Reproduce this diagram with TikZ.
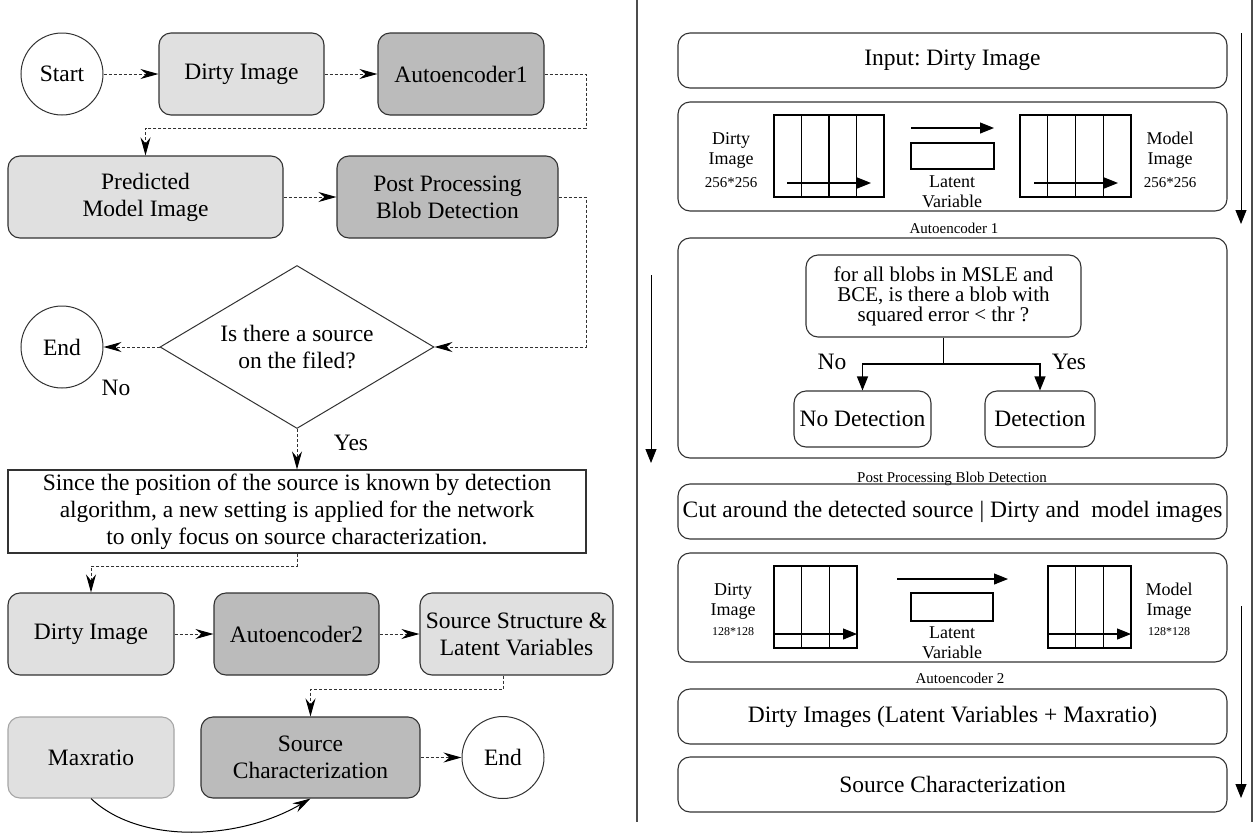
\documentclass[tikz,border=0pt]{standalone}
\usepackage{fontspec}
\setmainfont{Liberation Serif}
\usetikzlibrary{arrows.meta,shapes.geometric}
\frenchspacing

\definecolor{lightfill}{RGB}{224,224,224}
\definecolor{darkfill}{RGB}{187,187,187}
\definecolor{edgegray}{RGB}{50,50,50}

\newcommand{\mainsize}{\fontsize{23.5}{27}\selectfont}
\newcommand{\asksize}{\fontsize{21}{20}\selectfont}
\newcommand{\labelsize}{\fontsize{18}{20}\selectfont}
\newcommand{\dimsize}{\fontsize{15}{17}\selectfont}
\newcommand{\smalldimsize}{\fontsize{12}{14}\selectfont}

\tikzset{
  block/.style={draw=edgegray, line width=1.1pt, rounded corners=12pt, align=center,
    font=\mainsize, inner sep=0pt, minimum height=82pt},
  lightbox/.style={block, fill=lightfill},
  darkbox/.style={block, fill=darkfill},
  term/.style={circle, draw=edgegray, line width=1pt, fill=white, minimum size=82pt,
    inner sep=0pt, font=\mainsize},
  flow/.style={densely dashed, line width=1pt, draw=edgegray,
    -{Stealth[length=18pt,width=10pt,inset=6pt,black]}},
  stage/.style={draw=edgegray, line width=1.1pt, rounded corners=12pt, minimum width=549pt,
    inner sep=0pt, font=\mainsize},
  stagecap/.style={font=\dimsize, inner sep=0pt},
  grid/.style={line width=1.2pt, black},
  pipe/.style={line width=1.1pt, black, -{Triangle[length=14pt,width=11pt]}},
  flowlabel/.style={font=\mainsize, inner sep=0pt},
}

\begin{document}
\begin{tikzpicture}[x=1pt,y=-1pt]
\useasboundingbox (0,0) rectangle (1259,836);

% left side: flow chart
\node[term] (start) at (62,74) {Start};
\node[lightbox, minimum width=165pt] (dirty1) at (241.5,74) {Dirty Image};
\node[darkbox, minimum width=166pt] (ae1) at (461,74) {Autoencoder1};
\node[lightbox, minimum width=275pt] (pred) at (145.5,197) {Predicted\\Model Image};
\node[darkbox, minimum width=221pt] (post) at (447.5,197) {Post Processing\\Blob Detection};
\node[diamond, draw=edgegray, line width=1pt, aspect=1.68, minimum width=274pt, minimum height=163pt,
  inner sep=0pt, align=center, font=\mainsize] (dec) at (297,347) {Is there a source\\on the filed?};
\node[term] (end1) at (62,347) {End};
\node[flowlabel] (nolbl) at (116,388) {No};
\node[flowlabel] (yeslbl) at (351,443) {Yes};
\node[draw=edgegray, line width=1.1pt, minimum width=578pt, minimum height=83pt, inner sep=0pt,
  align=center, font=\mainsize] (note) at (297,511.5)
  {Since the position of the source is known by detection\\
   algorithm, a new setting is applied for the network\\
   to only focus on source characterization.};
\node[lightbox, minimum width=166pt] (dirty2) at (91,634) {Dirty Image};
\node[darkbox, minimum width=165pt] (ae2) at (296.5,634) {Autoencoder2};
\node[lightbox, minimum width=193pt] (latvars) at (516.5,634) {Source Structure \&\\Latent Variables};
\node[lightbox, draw=gray!70, minimum width=166pt, minimum height=81pt] (maxr) at (91,757.5) {Maxratio};
\node[darkbox, minimum width=219pt, minimum height=81pt] (sc) at (310.5,757.5) {Source\\Characterization};
\node[term] (end2) at (503,757.5) {End};

\coordinate (turn1) at (586,128);
\coordinate (turn2) at (586,347);
\coordinate (turn3) at (91,566);
\coordinate (turn4) at (310.5,689);

\draw[flow] (start) -- (dirty1);
\draw[flow] (dirty1) -- (ae1);
\draw[flow] (ae1.east) -| (turn1) -| (pred.north);
\draw[flow] (pred) -- (post);
\draw[flow] (post.east) -| (turn2) -- (dec.east);
\draw[flow] (dec.west) -- (end1);
\draw[flow] (dec.south) -- (note.north);
\draw[flow] (note.south) |- (turn3) -- (dirty2.north);
\draw[flow] (dirty2) -- (ae2);
\draw[flow] (ae2) -- (latvars);
\draw[flow] ([xshift=-13pt]latvars.south) |- (turn4) -- (sc.north);
\draw[flow] (sc) -- (end2);
\draw[line width=1pt, black, -{Stealth[length=18pt,width=10pt,inset=6pt]}]
  (maxr.south) .. controls (140,845) and (240,840) .. (sc.south);

% separators
\draw[gray!60!black, line width=1.4pt] (637,0) -- (637,822);
\draw[gray!60!black, line width=1.4pt] (1252,0) -- (1252,822);

% right side: stages
\node[stage, minimum height=55pt] (input) at (952.5,60.5) {Input: Dirty Image};
\node[stage, minimum height=109pt] (aeone) at (952.5,156.5) {};
\node[stagecap] (aeonecap) at (954,228) {Autoencoder 1};
\node[stage, minimum height=220pt] (blob) at (952.5,348) {};
\node[stagecap] (blobcap) at (952,479) {Post Processing Blob Detection};
\node[stage, minimum height=55pt] (cut) at (952.5,511.5) {Cut around the detected source | Dirty and\ \ model images};
\node[stage, minimum height=109pt] (aetwo) at (952.5,607.5) {};
\node[stagecap] (aetwocap) at (960,678) {Autoencoder 2};
\node[stage, minimum height=55pt] (merge) at (952.5,716.5) {Dirty Images (Latent Variables + Maxratio)};
\node[stage, minimum height=55pt] (charac) at (952.5,784.5) {Source Characterization};

% autoencoder 1
\node[font=\labelsize, align=center, inner sep=0pt] at (731,150) {Dirty\\Image};
\node[font=\dimsize, inner sep=0pt] at (731,183) {256*256};
\draw[grid] (774,115) rectangle (884,197);
\foreach \gx in {801.5,829,856.5} \draw[grid] (\gx,115) -- (\gx,197);
\draw[pipe] (787,183) -- (871,183);
\draw[pipe] (911,128) -- (994,128);
\draw[grid] (911,143) rectangle (994,169);
\node[font=\labelsize, align=center, inner sep=0pt] at (952,192) {Latent\\Variable};
\draw[grid] (1020,115) rectangle (1131,197);
\foreach \gx in {1047.75,1075.5,1103.25} \draw[grid] (\gx,115) -- (\gx,197);
\draw[pipe] (1034,183) -- (1118,183);
\node[font=\labelsize, align=center, inner sep=0pt] at (1170,150) {Model\\Image};
\node[font=\dimsize, inner sep=0pt] at (1170,183) {256*256};

% post processing
\node[draw=edgegray, line width=1.1pt, rounded corners=12pt, minimum width=275pt, minimum height=82pt,
  inner sep=0pt, align=center, font=\asksize] (query) at (943.5,296)
  {for all blobs in MSLE and\\BCE, is there a blob with\\squared error < thr ?};
\node[draw=edgegray, line width=1.1pt, rounded corners=12pt, minimum width=137pt, minimum height=56pt,
  inner sep=0pt, font=\mainsize] (nodet) at (862.5,419) {No Detection};
\node[draw=edgegray, line width=1.1pt, rounded corners=12pt, minimum width=110pt, minimum height=56pt,
  inner sep=0pt, font=\mainsize] (det) at (1040,419) {Detection};
\coordinate (split) at (943.5,364);
\draw[line width=1pt] (query.south) -- (split);
\draw[pipe] (split) -| (nodet.north);
\draw[pipe] (split) -| (det.north);
\node[flowlabel] (nolbl2) at (832,362) {No};
\node[flowlabel] (yeslbl2) at (1069,362) {Yes};

% autoencoder 2
\node[font=\labelsize, align=center, inner sep=0pt] at (733,601) {Dirty\\Image};
\node[font=\smalldimsize, inner sep=0pt] at (733,632) {128*128};
\draw[grid] (774,566) rectangle (857,648);
\foreach \gx in {801.7,829.3} \draw[grid] (\gx,566) -- (\gx,648);
\draw[pipe] (774,634) -- (857,634);
\draw[pipe] (897,579) -- (1008,579);
\draw[grid] (911,593) rectangle (993,621);
\node[font=\labelsize, align=center, inner sep=0pt] at (952,643) {Latent\\Variable};
\draw[grid] (1048,566) rectangle (1131,648);
\foreach \gx in {1075.7,1103.3} \draw[grid] (\gx,566) -- (\gx,648);
\draw[pipe] (1048,634) -- (1131,634);
\node[font=\labelsize, align=center, inner sep=0pt] at (1169,601) {Model\\Image};
\node[font=\smalldimsize, inner sep=0pt] at (1169,632) {128*128};

% direction arrows
\draw[pipe, line width=1pt] (1241,33) -- (1241,224);
\draw[pipe, line width=1pt] (651,275) -- (651,463);
\draw[pipe, line width=1pt] (1241,606) -- (1241,798);
\end{tikzpicture}
\end{document}
